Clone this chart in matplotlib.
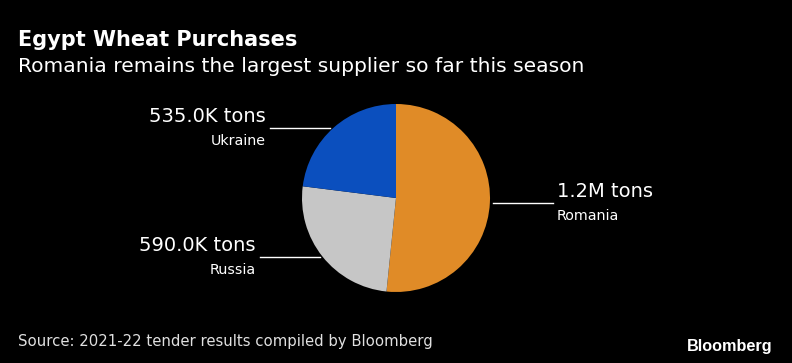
"""Egypt wheat purchases by supplier, Bloomberg-style pie on black."""

import numpy as np
import matplotlib
matplotlib.use("Agg")
import matplotlib.pyplot as plt

# --- data -------------------------------------------------------------------
suppliers = ["Romania", "Russia", "Ukraine"]
tons_k = [1200.0, 590.0, 535.0]
value_labels = ["1.2M tons", "590.0K tons", "535.0K tons"]
colors = ["#E08B27", "#C6C6C6", "#0B4FBE"]

title = "Egypt Wheat Purchases"
subtitle = "Romania remains the largest supplier so far this season"
source = "Source: 2021-22 tender results compiled by Bloomberg"

# --- layout (pixels, origin top-left) ---------------------------------------
W, H = 792, 363
CX, CY, R = 396, 198, 94
# label line height (in pie radius units) and side, per supplier
label_y = {"Romania": -0.053, "Russia": -0.628, "Ukraine": 0.745}
label_side = {"Romania": 1, "Russia": -1, "Ukraine": -1}
LINE_LEN = 60 / R
GAP = 3 / R


def fx(px):
    return px / W


def fy(py):
    return 1 - py / H


fig = plt.figure(figsize=(W / 100, H / 100), dpi=100, facecolor="black")

fig.text(fx(18), fy(46), title, color="white", fontsize=15,
         fontweight="bold", va="baseline", ha="left")
fig.text(fx(18), fy(72), subtitle, color="white", fontsize=14.6,
         va="baseline", ha="left")
fig.text(fx(18), fy(346), source, color="#e0e0e0", fontsize=10.7,
         va="baseline", ha="left")
fig.text(fx(773), fy(351), "Bloomberg", color="white", fontsize=11.7,
         fontweight="bold", family="Liberation Sans", va="baseline", ha="right")

ax = fig.add_axes([fx(CX - R), fy(CY + R), 2 * R / W, 2 * R / H])
ax.set_facecolor("black")
ax.pie(tons_k, colors=colors, startangle=90, counterclock=False, radius=1,
       wedgeprops=dict(linewidth=0))
ax.set_xlim(-1, 1)
ax.set_ylim(-1, 1)
ax.set_aspect("equal")
ax.axis("off")

for name, val in zip(suppliers, value_labels):
    y = label_y[name]
    s = label_side[name]
    x0 = s * (np.sqrt(1 - y ** 2) + GAP)
    x1 = x0 + s * LINE_LEN
    ax.plot([x0, x1], [y, y], color="white", linewidth=1, clip_on=False)
    ha = "left" if s > 0 else "right"
    ax.annotate(val, xy=(x1, y), xytext=(s * 3, 4.5), textcoords="offset points",
                color="white", fontsize=14, ha=ha, va="baseline",
                annotation_clip=False)
    ax.annotate(name, xy=(x1, y), xytext=(s * 3, -4), textcoords="offset points",
                color="white", fontsize=10.3, ha=ha, va="top",
                annotation_clip=False)

fig.savefig("out.png", dpi=100, facecolor="black")
